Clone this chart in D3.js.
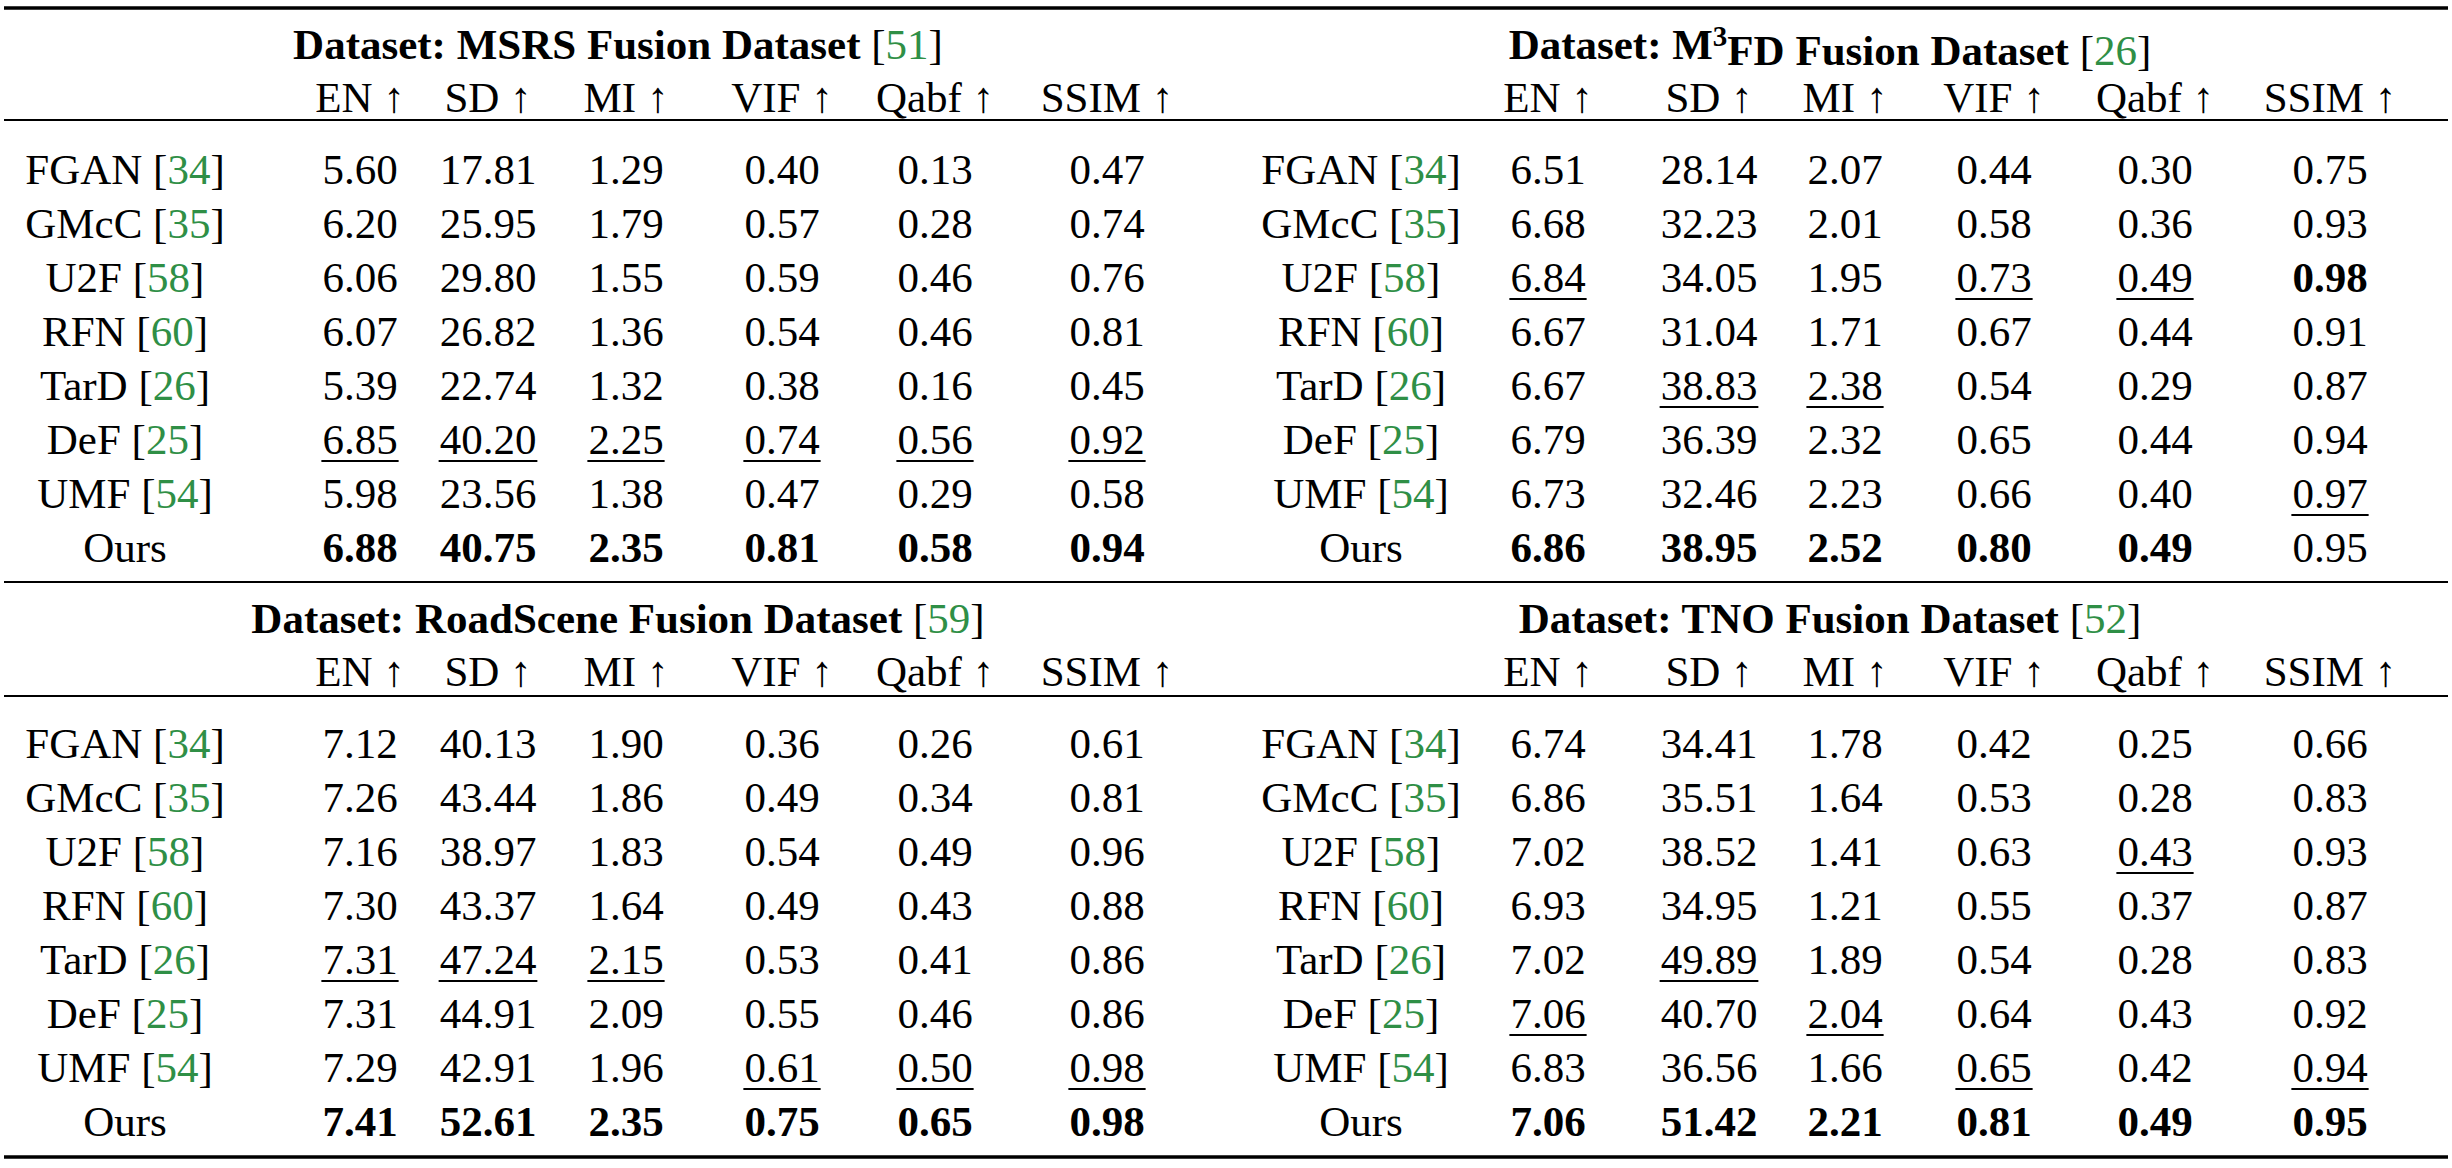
<html>
<head>
<style>
  body { margin: 0; background: #fff; }
  svg { font-family: "Liberation Serif", "DejaVu Serif", serif; }
</style>
</head>
<body>
<svg width="2452" height="1168"></svg>
<script src="https://d3js.org/d3.v7.min.js"></script>
<script>
let methods = ["FGAN", "GMcC", "U2F", "RFN", "TarD", "DeF", "UMF", "Ours"]
let methodRefs = ["34", "35", "58", "60", "26", "25", "54", ""]
let metrics = ["EN", "SD", "MI", "VIF", "Qabf", "SSIM"]

let datasetNames = ["MSRS", "M3FD", "RoadScene", "TNO"]
let datasetRefs = ["51", "26", "59", "52"]

let msrs = [
  [5.60, 17.81, 1.29, 0.40, 0.13, 0.47],
  [6.20, 25.95, 1.79, 0.57, 0.28, 0.74],
  [6.06, 29.80, 1.55, 0.59, 0.46, 0.76],
  [6.07, 26.82, 1.36, 0.54, 0.46, 0.81],
  [5.39, 22.74, 1.32, 0.38, 0.16, 0.45],
  [6.85, 40.20, 2.25, 0.74, 0.56, 0.92],
  [5.98, 23.56, 1.38, 0.47, 0.29, 0.58],
  [6.88, 40.75, 2.35, 0.81, 0.58, 0.94]
]
let m3fd = [
  [6.51, 28.14, 2.07, 0.44, 0.30, 0.75],
  [6.68, 32.23, 2.01, 0.58, 0.36, 0.93],
  [6.84, 34.05, 1.95, 0.73, 0.49, 0.98],
  [6.67, 31.04, 1.71, 0.67, 0.44, 0.91],
  [6.67, 38.83, 2.38, 0.54, 0.29, 0.87],
  [6.79, 36.39, 2.32, 0.65, 0.44, 0.94],
  [6.73, 32.46, 2.23, 0.66, 0.40, 0.97],
  [6.86, 38.95, 2.52, 0.80, 0.49, 0.95]
]
let roadscene = [
  [7.12, 40.13, 1.90, 0.36, 0.26, 0.61],
  [7.26, 43.44, 1.86, 0.49, 0.34, 0.81],
  [7.16, 38.97, 1.83, 0.54, 0.49, 0.96],
  [7.30, 43.37, 1.64, 0.49, 0.43, 0.88],
  [7.31, 47.24, 2.15, 0.53, 0.41, 0.86],
  [7.31, 44.91, 2.09, 0.55, 0.46, 0.86],
  [7.29, 42.91, 1.96, 0.61, 0.50, 0.98],
  [7.41, 52.61, 2.35, 0.75, 0.65, 0.98]
]
let tno = [
  [6.74, 34.41, 1.78, 0.42, 0.25, 0.66],
  [6.86, 35.51, 1.64, 0.53, 0.28, 0.83],
  [7.02, 38.52, 1.41, 0.63, 0.43, 0.93],
  [6.93, 34.95, 1.21, 0.55, 0.37, 0.87],
  [7.02, 49.89, 1.89, 0.54, 0.28, 0.83],
  [7.06, 40.70, 2.04, 0.64, 0.43, 0.92],
  [6.83, 36.56, 1.66, 0.65, 0.42, 0.94],
  [7.06, 51.42, 2.21, 0.81, 0.49, 0.95]
]
// row index of the bold (best) and underlined (second) value for each metric
let boldRows = [[7,7,7,7,7,7], [7,7,7,7,7,2], [7,7,7,7,7,7], [7,7,7,7,7,7]]
let underRows = [[5,5,5,5,5,5], [2,4,4,2,2,6], [4,4,4,6,6,6], [5,4,5,6,2,6]]
let tables = [msrs, m3fd, roadscene, tno]

let svg = d3.select("svg")
let green = "#2f8f46"
let fs = 43

let blockTop = [0, 574]
let rowY = d3.scalePoint().domain(d3.range(8)).range([169, 547])

let metricX = [[360, 488, 626, 782, 935, 1107], [1548, 1709, 1845, 1994, 2155, 2330]]
let methodX = [125, 1361]
let titleX = [618, 1830]

function rule(y, w) {
  svg.append("line").attr("x1", 4).attr("x2", 2448).attr("y1", y).attr("y2", y)
    .attr("stroke", "#000").attr("stroke-width", w)
}
rule(8, 3.5)
rule(120, 2)
rule(582, 2)
rule(696, 2)
rule(1157, 3.5)

tables.forEach((data, di) => {
  let side = di % 2
  let dy = blockTop[Math.floor(di / 2)]
  let g = svg.append("g").attr("transform", `translate(0,${dy})`)

  // title
  let t = g.append("text").attr("x", titleX[side]).attr("y", 44).attr("dy", "0.35em")
    .attr("text-anchor", "middle").attr("font-size", fs).attr("font-weight", "bold")
  t.append("tspan").text("Dataset: ")
  if (datasetNames[di] == "M3FD") {
    t.append("tspan").text("M")
    t.append("tspan").text("3").attr("font-size", 29).attr("dy", "-0.45em")
    t.append("tspan").text("FD Fusion Dataset ").attr("dy", "0.45em")
  } else {
    t.append("tspan").text(datasetNames[di] + " Fusion Dataset ")
  }
  t.append("tspan").text("[").attr("font-weight", "normal")
  t.append("tspan").text(datasetRefs[di]).attr("font-weight", "normal").attr("fill", green)
  t.append("tspan").text("]").attr("font-weight", "normal")

  // metric headers
  g.selectAll(".hdr").data(metrics).join("text")
    .attr("x", (d, i) => metricX[side][i]).attr("y", 97).attr("dy", "0.35em")
    .attr("text-anchor", "middle").attr("font-size", fs)
    .text(d => d + " \u2191")

  // method labels
  let ml = g.selectAll(".meth").data(methods).join("text")
    .attr("x", methodX[side]).attr("y", (d, i) => rowY(i)).attr("dy", "0.35em")
    .attr("text-anchor", "middle").attr("font-size", fs)
  ml.each(function (d, i) {
    let el = d3.select(this)
    if (methodRefs[i] == "") { el.text(d); return }
    el.append("tspan").text(d + " [")
    el.append("tspan").text(methodRefs[i]).attr("fill", green)
    el.append("tspan").text("]")
  })

  // values
  data.forEach((row, ri) => {
    row.forEach((v, ci) => {
      let x = metricX[side][ci], y = rowY(ri)
      let bold = boldRows[di][ci] == ri
      let txt = g.append("text").attr("x", x).attr("y", y).attr("dy", "0.35em")
        .attr("text-anchor", "middle").attr("font-size", fs)
        .attr("font-weight", bold ? "bold" : "normal")
        .text(v.toFixed(2))
      if (underRows[di][ci] == ri) {
        let w = txt.node().getComputedTextLength()
        g.append("line").attr("x1", x - w / 2 - 1).attr("x2", x + w / 2 + 1)
          .attr("y1", y + 22).attr("y2", y + 22)
          .attr("stroke", "#000").attr("stroke-width", 2)
      }
    })
  })
})
</script>
</body>
</html>
